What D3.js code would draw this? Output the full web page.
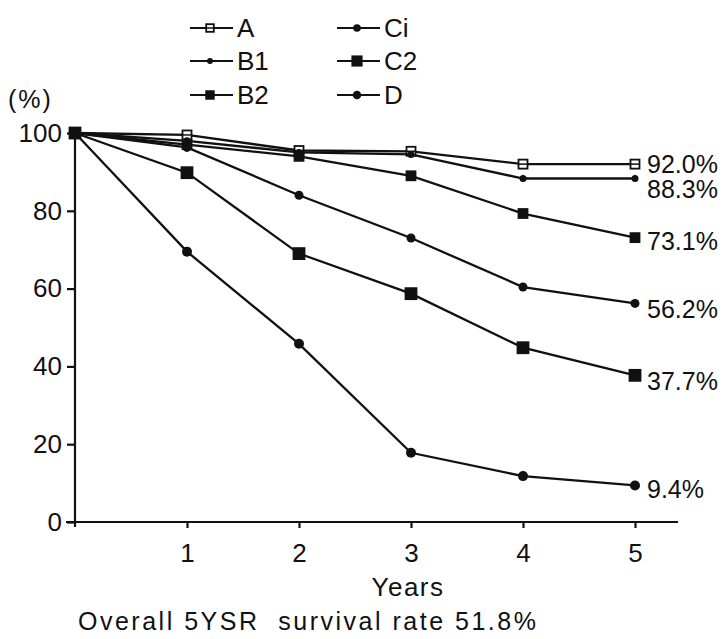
<!DOCTYPE html>
<html>
<head>
<meta charset="utf-8">
<script src="https://cdn.jsdelivr.net/npm/d3@7"></script>
<style>
  body { margin: 0; background: #fff; }
  svg text { font-family: "Liberation Sans", Arial, sans-serif; fill: #111; }
</style>
</head>
<body>
<svg id="chart" width="725" height="639"></svg>
<script>
const years = [0, 1, 2, 3, 4, 5];
const groups = ['A', 'B1', 'B2', 'Ci', 'C2', 'D'];
const seriesA  = [100, 99.5, 95.5, 95.3, 92.0, 92.0];
const seriesB1 = [100, 98.0, 95.0, 94.5, 88.3, 88.3];
const seriesB2 = [100, 97.0, 94.0, 89.0, 79.3, 73.1];
const seriesCi = [100, 96.3, 84.0, 73.0, 60.4, 56.2];
const seriesC2 = [100, 89.8, 69.0, 58.7, 44.8, 37.7];
const seriesD  = [100, 69.5, 45.8, 17.8, 11.8, 9.4];
const endLabels = ['92.0%', '88.3%', '73.1%', '56.2%', '37.7%', '9.4%'];
const yTicks = [0, 20, 40, 60, 80, 100];
const xTicks = [1, 2, 3, 4, 5];

const values = [seriesA, seriesB1, seriesB2, seriesCi, seriesC2, seriesD];
// marker style per group
const markers = {
  A:  { shape: 'square', size: 9, fill: '#fff' },
  B1: { shape: 'circle', size: 3.5, fill: '#111' },
  B2: { shape: 'square', size: 9, fill: '#111' },
  Ci: { shape: 'circle', size: 4.5, fill: '#111' },
  C2: { shape: 'square', size: 11, fill: '#111' },
  D:  { shape: 'circle', size: 5, fill: '#111' }
};
const labelShift = { A: 0, B1: 11, B2: 4, Ci: 6, C2: 6, D: 4 };

const svg = d3.select('#chart');
const x = d3.scaleLinear().domain([0, 5]).range([75, 635]);
const y = d3.scaleLinear().domain([0, 100]).range([522, 133]);

// y axis
const yAxis = svg.append('g')
  .attr('transform', 'translate(75,0)')
  .call(d3.axisLeft(y).tickValues(yTicks).tickSize(8).tickSizeOuter(0).tickPadding(5));
yAxis.select('.domain').attr('d', 'M0,128V527');
// x axis
const xAxis = svg.append('g')
  .attr('transform', 'translate(0,522)')
  .call(d3.axisBottom(x).tickValues(xTicks).tickFormat(d3.format('d'))
    .tickSize(6).tickSizeOuter(0).tickPadding(16));
xAxis.select('.domain').attr('d', 'M66,0H678');

svg.selectAll('.domain, .tick line').attr('stroke', '#111').attr('stroke-width', 2.2);
svg.selectAll('.tick text').style('font-size', '26px');

svg.append('text').attr('x', 8).attr('y', 108).style('font-size', '25px')
  .style('letter-spacing', '2px').text('(%)');
svg.append('text').attr('x', 408).attr('y', 596).attr('text-anchor', 'middle')
  .style('font-size', '26px').style('letter-spacing', '1.5px').text('Years');
svg.append('text').attr('x', 78).attr('y', 630).style('font-size', '25px')
  .style('letter-spacing', '2.5px').style('white-space', 'pre')
  .text('Overall 5YSR  survival rate 51.8%');

const line = d3.line().x((d, i) => x(years[i])).y(d => y(d));

function drawMarker(g, key, cx, cy, scale = 1) {
  const m = markers[key];
  const s = m.size * scale;
  if (m.shape === 'square') {
    g.append('rect')
      .attr('x', cx - s / 2).attr('y', cy - s / 2)
      .attr('width', s).attr('height', s)
      .attr('fill', m.fill).attr('stroke', '#111').attr('stroke-width', 1.8);
    if (m.fill === '#fff') {
      g.append('line').attr('x1', cx - s / 2).attr('x2', cx + s / 2)
        .attr('y1', cy).attr('y2', cy).attr('stroke', '#111').attr('stroke-width', 1.5);
    }
  } else {
    g.append('circle').attr('cx', cx).attr('cy', cy).attr('r', s)
      .attr('fill', m.fill);
  }
}

groups.forEach((key, gi) => {
  const g = svg.append('g');
  g.append('path').datum(values[gi])
    .attr('d', line).attr('fill', 'none')
    .attr('stroke', '#111').attr('stroke-width', 2.3);
  values[gi].forEach((v, i) => drawMarker(g, key, x(years[i]), y(v)));
  g.append('text')
    .attr('x', x(5) + 12).attr('y', y(values[gi][5]) + labelShift[key])
    .attr('dy', '0.35em')
    .style('font-size', '25px')
    .text(endLabels[gi]);
});

// legend
const legendCols = [190, 337];
const legendRows = [28, 61, 95];
groups.forEach((key, gi) => {
  const lx = legendCols[Math.floor(gi / 3)];
  const ly = legendRows[gi % 3];
  const g = svg.append('g');
  g.append('line').attr('x1', lx).attr('x2', lx + 43).attr('y1', ly).attr('y2', ly)
    .attr('stroke', '#111').attr('stroke-width', 2.2);
  drawMarker(g, key, lx + 20, ly, 0.85);
  g.append('text').attr('x', lx + 47).attr('y', ly).attr('dy', '0.36em')
    .style('font-size', '26px').text(key);
});
</script>
</body>
</html>
